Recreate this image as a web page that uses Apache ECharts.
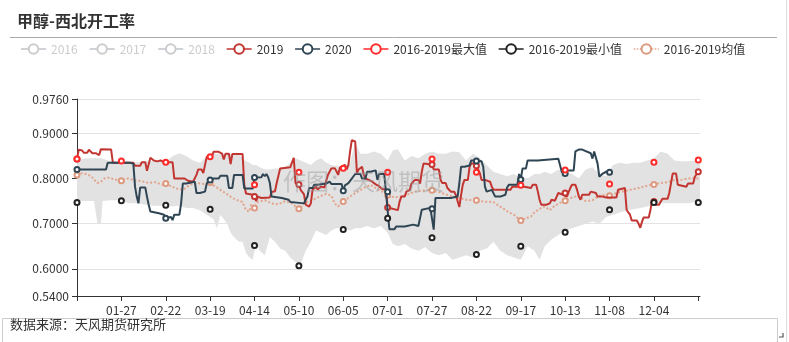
<!DOCTYPE html>
<html><head><meta charset="utf-8">
<script src="https://cdn.jsdelivr.net/npm/echarts@6/dist/echarts.min.js"></script>
<style>html,body{margin:0;padding:0;background:#fff}#c{width:789px;height:342px}</style>
</head><body><div id="c"></div>
<script>
// ---- categories (leap-year daily axis, mm-dd) ----
const monthDays = [31,29,31,30,31,30,31,31,30,31,30,31];
const categories = [];
monthDays.forEach((n, m) => { for (let d = 1; d <= n; d++) categories.push(String(m+1).padStart(2,'0') + '-' + String(d).padStart(2,'0')); });

const yTickLabels = ['0.5400','0.6000','0.7000','0.8000','0.9000','0.9760'];

// ---- series values: [dayIndex, value] ----
const s2016 = [];
const s2017 = [];
const s2018 = [];
const s2019 = [[0,0.843],[1,0.864],[3,0.862],[4,0.857],[6,0.857],[7,0.864],[8,0.862],[9,0.856],[11,0.856],[12,0.852],[13,0.852],[14,0.865],[20,0.864],[21,0.835],[33,0.835],[34,0.828],[37,0.828],[38,0.836],[40,0.836],[41,0.817],[42,0.815],[43,0.846],[45,0.84],[47,0.838],[49,0.84],[51,0.836],[56,0.836],[57,0.80],[63,0.80],[65,0.795],[66,0.797],[68,0.793],[69,0.796],[70,0.808],[71,0.82],[73,0.82],[74,0.812],[75,0.812],[76,0.848],[79,0.848],[80,0.859],[83,0.859],[84,0.855],[85,0.855],[86,0.842],[87,0.855],[89,0.855],[90,0.832],[91,0.854],[97,0.854],[98,0.786],[99,0.767],[103,0.764],[104,0.76],[105,0.75],[106,0.76],[107,0.762],[108,0.757],[113,0.758],[114,0.77],[116,0.772],[117,0.79],[118,0.79],[119,0.822],[125,0.825],[126,0.836],[127,0.846],[128,0.79],[130,0.787],[131,0.775],[133,0.765],[134,0.742],[136,0.738],[137,0.745],[138,0.775],[140,0.782],[141,0.776],[143,0.782],[145,0.78],[146,0.795],[147,0.808],[149,0.822],[151,0.823],[152,0.816],[153,0.808],[154,0.824],[157,0.83],[158,0.82],[159,0.83],[160,0.86],[161,0.885],[163,0.882],[164,0.812],[165,0.82],[167,0.826],[168,0.808],[169,0.8],[171,0.797],[173,0.793],[175,0.787],[177,0.783],[179,0.776],[181,0.776],[182,0.736],[188,0.73],[189,0.749],[190,0.76],[192,0.76],[193,0.771],[195,0.775],[196,0.789],[198,0.797],[200,0.797],[201,0.789],[202,0.815],[203,0.833],[208,0.831],[209,0.82],[212,0.82],[213,0.797],[214,0.79],[216,0.79],[217,0.779],[218,0.782],[219,0.771],[221,0.771],[222,0.763],[223,0.763],[224,0.737],[225,0.763],[226,0.786],[227,0.797],[229,0.797],[230,0.826],[231,0.833],[233,0.833],[234,0.828],[235,0.826],[236,0.812],[237,0.797],[239,0.797],[240,0.793],[242,0.793],[243,0.782],[244,0.775],[254,0.775],[255,0.782],[262,0.782],[266,0.779],[267,0.786],[269,0.786],[270,0.771],[271,0.753],[272,0.742],[275,0.742],[276,0.745],[277,0.745],[278,0.753],[280,0.751],[281,0.749],[282,0.768],[285,0.764],[286,0.768],[287,0.76],[288,0.76],[289,0.779],[290,0.786],[292,0.786],[293,0.775],[294,0.76],[295,0.753],[296,0.764],[300,0.764],[301,0.771],[302,0.768],[304,0.768],[305,0.76],[308,0.76],[309,0.764],[310,0.758],[316,0.758],[317,0.775],[318,0.779],[321,0.779],[322,0.731],[323,0.725],[324,0.72],[325,0.707],[328,0.707],[329,0.7],[330,0.691],[331,0.704],[332,0.714],[335,0.714],[336,0.731],[337,0.753],[338,0.749],[339,0.742],[341,0.742],[342,0.749],[343,0.755],[346,0.755],[347,0.768],[348,0.764],[349,0.811],[351,0.811],[352,0.786],[353,0.782],[357,0.782],[358,0.789],[361,0.789],[362,0.804],[364,0.815],[365,0.819]];
const s2020 = [[0,0.82],[17,0.82],[18,0.835],[31,0.835],[32,0.833],[33,0.833],[34,0.782],[35,0.76],[36,0.745],[37,0.78],[40,0.78],[41,0.76],[42,0.742],[43,0.727],[44,0.723],[48,0.723],[49,0.72],[51,0.72],[52,0.712],[53,0.715],[55,0.715],[56,0.708],[57,0.72],[60,0.72],[61,0.745],[62,0.789],[64,0.789],[65,0.793],[69,0.793],[70,0.768],[72,0.768],[73,0.771],[75,0.771],[76,0.789],[77,0.789],[78,0.797],[80,0.8],[83,0.8],[84,0.806],[88,0.806],[89,0.779],[91,0.779],[92,0.808],[97,0.808],[98,0.778],[103,0.778],[104,0.802],[108,0.803],[109,0.81],[110,0.805],[111,0.81],[112,0.803],[113,0.79],[114,0.76],[120,0.757],[124,0.753],[125,0.748],[133,0.745],[134,0.753],[135,0.76],[136,0.779],[138,0.779],[139,0.786],[141,0.786],[142,0.789],[146,0.789],[147,0.793],[148,0.793],[149,0.788],[155,0.788],[156,0.773],[157,0.785],[159,0.79],[161,0.8],[162,0.805],[163,0.81],[166,0.81],[167,0.8],[169,0.8],[170,0.815],[172,0.815],[173,0.818],[175,0.818],[176,0.797],[177,0.81],[180,0.81],[181,0.771],[182,0.771],[183,0.688],[186,0.688],[187,0.694],[192,0.694],[193,0.698],[197,0.698],[200,0.695],[201,0.713],[202,0.731],[203,0.735],[207,0.735],[208,0.733],[209,0.687],[210,0.757],[219,0.757],[220,0.76],[223,0.76],[224,0.789],[225,0.826],[227,0.826],[228,0.829],[230,0.829],[231,0.84],[233,0.84],[234,0.839],[237,0.838],[238,0.826],[239,0.782],[240,0.771],[241,0.775],[243,0.775],[244,0.771],[245,0.76],[248,0.76],[249,0.764],[251,0.764],[252,0.78],[253,0.786],[258,0.786],[259,0.81],[260,0.798],[261,0.822],[263,0.822],[264,0.84],[270,0.84],[271,0.844],[282,0.844],[283,0.84],[284,0.815],[286,0.811],[287,0.818],[291,0.818],[292,0.86],[294,0.864],[296,0.864],[297,0.86],[301,0.856],[302,0.844],[303,0.86],[304,0.86],[305,0.833],[306,0.804],[307,0.802],[308,0.811],[310,0.815],[312,0.814]];
const maxVals = [[0,0.843],[26,0.839],[52,0.836],[78,0.848],[104,0.786],[130,0.814],[156,0.823],[182,0.814],[208,0.843],[234,0.814],[260,0.785],[286,0.819],[312,0.788],[338,0.836],[364,0.841]];
const minVals = [[0,0.747],[26,0.751],[52,0.741],[78,0.732],[104,0.652],[130,0.607],[156,0.687],[182,0.712],[208,0.669],[234,0.632],[260,0.65],[286,0.681],[312,0.731],[338,0.747],[364,0.747]];
const meanVals = [[0,0.808],[2,0.812],[5,0.81],[8,0.806],[10,0.798],[12,0.79],[14,0.793],[16,0.8],[18,0.802],[22,0.798],[26,0.795],[30,0.8],[34,0.796],[38,0.794],[42,0.79],[46,0.792],[50,0.786],[52,0.789],[54,0.785],[58,0.778],[62,0.775],[64,0.78],[66,0.786],[70,0.79],[74,0.788],[78,0.791],[80,0.785],[84,0.775],[88,0.765],[91,0.757],[94,0.752],[97,0.748],[99,0.73],[101,0.727],[102,0.742],[104,0.735],[106,0.748],[110,0.752],[114,0.745],[118,0.743],[122,0.75],[126,0.745],[128,0.738],[130,0.733],[134,0.748],[138,0.752],[142,0.76],[146,0.766],[149,0.762],[151,0.745],[153,0.738],[156,0.749],[160,0.76],[164,0.77],[168,0.779],[172,0.786],[175,0.779],[178,0.773],[182,0.763],[186,0.758],[190,0.76],[194,0.765],[198,0.771],[202,0.773],[206,0.775],[208,0.774],[212,0.77],[216,0.765],[220,0.76],[224,0.757],[228,0.753],[234,0.752],[238,0.749],[244,0.748],[247,0.74],[250,0.733],[253,0.725],[256,0.72],[258,0.713],[260,0.707],[263,0.712],[266,0.716],[268,0.725],[271,0.733],[274,0.738],[277,0.73],[280,0.74],[283,0.746],[286,0.751],[290,0.758],[294,0.762],[298,0.75],[302,0.752],[306,0.762],[310,0.764],[312,0.762],[316,0.768],[320,0.772],[324,0.775],[328,0.778],[332,0.782],[336,0.786],[338,0.787],[342,0.79],[346,0.792],[350,0.797],[354,0.797],[358,0.8],[362,0.801],[365,0.8]];
// grey range band: [dayIndex, low, high]
const bandVals = [[0,0.75,0.84],[5,0.75,0.845],[10,0.75,0.845],[12,0.70,0.845],[14,0.70,0.845],[15,0.75,0.845],[20,0.752,0.838],[26,0.752,0.836],[30,0.745,0.836],[35,0.745,0.836],[40,0.742,0.838],[45,0.74,0.838],[52,0.74,0.836],[56,0.738,0.85],[60,0.74,0.856],[64,0.735,0.85],[68,0.735,0.84],[72,0.73,0.835],[76,0.72,0.848],[80,0.71,0.855],[82,0.69,0.855],[84,0.72,0.855],[88,0.70,0.855],[90,0.68,0.855],[92,0.67,0.855],[95,0.66,0.855],[97,0.66,0.845],[99,0.635,0.838],[101,0.625,0.835],[103,0.62,0.83],[105,0.66,0.83],[107,0.64,0.825],[110,0.63,0.82],[113,0.67,0.82],[116,0.66,0.822],[119,0.645,0.822],[122,0.64,0.826],[125,0.625,0.835],[128,0.615,0.845],[131,0.61,0.84],[134,0.64,0.835],[137,0.66,0.83],[140,0.685,0.84],[143,0.68,0.845],[146,0.675,0.835],[149,0.685,0.83],[152,0.69,0.828],[156,0.69,0.826],[160,0.685,0.835],[163,0.69,0.88],[166,0.69,0.855],[170,0.695,0.855],[174,0.69,0.86],[178,0.695,0.855],[182,0.68,0.84],[185,0.655,0.862],[188,0.65,0.865],[192,0.655,0.84],[196,0.645,0.85],[200,0.64,0.845],[204,0.648,0.855],[208,0.635,0.86],[212,0.63,0.855],[216,0.635,0.855],[220,0.62,0.86],[224,0.625,0.858],[228,0.63,0.84],[232,0.625,0.855],[236,0.64,0.845],[240,0.645,0.83],[244,0.66,0.815],[248,0.64,0.81],[252,0.63,0.805],[256,0.625,0.81],[260,0.62,0.80],[264,0.65,0.80],[268,0.64,0.81],[271,0.62,0.81],[274,0.65,0.815],[278,0.665,0.81],[282,0.675,0.82],[286,0.685,0.815],[290,0.69,0.81],[294,0.695,0.80],[298,0.70,0.82],[302,0.705,0.825],[306,0.70,0.81],[310,0.715,0.805],[314,0.72,0.83],[318,0.725,0.835],[322,0.73,0.832],[326,0.732,0.835],[330,0.735,0.835],[334,0.738,0.84],[338,0.742,0.845],[342,0.745,0.86],[346,0.745,0.855],[350,0.745,0.84],[354,0.745,0.838],[358,0.745,0.838],[362,0.748,0.84],[365,0.75,0.84]];

const legendNames = ['2016','2017','2018','2019','2020','2016-2019最大值','2016-2019最小值','2016-2019均值'];

const chart = echarts.init(document.getElementById('c'), null, {renderer:'canvas'});
const FONT = '"Noto Sans CJK SC", "Noto Sans", sans-serif';
const lineSeries = (name, data, color, extra) => Object.assign({
  name, type:'line', data, color, symbol:'emptyCircle', symbolSize:5, showAllSymbol:'auto',
  lineStyle:{width:2, color}, itemStyle:{color}, emphasis:{disabled:true}, animation:false
}, extra || {});

const option = {
  animation:false,
  textStyle:{fontFamily:FONT},
  title:{text:'甲醇-西北开工率', left:12, top:8, textStyle:{fontSize:16, fontWeight:'bold', color:'#333', fontFamily:FONT}},
  legend:{
    left:15, top:38, itemWidth:25, itemHeight:12, itemGap:11,
    itemStyle:{borderWidth:1.3}, lineStyle:{width:1.5},
    textStyle:{fontSize:12, color:'#333', fontFamily:FONT}, inactiveColor:'#ccc',
    selected:{'2016':false,'2017':false,'2018':false},
    data: legendNames.map(n => (n.indexOf('最') > 0 ? {name:n, lineStyle:{opacity:1, width:1.5}} : {name:n}))
  },
  grid:{left:77, right:89, top:99, bottom:46, containLabel:false},
  xAxis:{
    type:'category', data:categories, boundaryGap:false,
    axisLine:{lineStyle:{color:'#333'}},
    axisTick:{interval:25, lineStyle:{color:'#333'}},
    axisLabel:{interval:25, color:'#333', fontSize:12, margin:8,
      formatter:(v, i) => (i === 0 || i === 364 ? '' : v)},
    splitLine:{show:false}
  },
  yAxis:{
    type:'value', min:0.54, max:0.976,
    axisLine:{show:true, lineStyle:{color:'#333'}},
    axisTick:{show:true, lineStyle:{color:'#333'}},
    axisLabel:{color:'#333', fontSize:12, formatter:v => { const s = v.toFixed(4); return yTickLabels.indexOf(s) >= 0 ? s : ''; }},
    splitLine:{lineStyle:{color:'#e3e3e3'}}
  },
  series:[
    {name:'bandLow', type:'line', stack:'band', data:bandVals.map(r => [r[0], r[1]]), symbol:'none',
     lineStyle:{opacity:0}, silent:true, z:1},
    {name:'bandHigh', type:'line', stack:'band', data:bandVals.map(r => [r[0], +(r[2]-r[1]).toFixed(4)]), symbol:'none',
     lineStyle:{opacity:0}, areaStyle:{color:'#e2e2e2', opacity:1}, silent:true, z:1},
    lineSeries('2016', s2016, '#bbbbbb'),
    lineSeries('2017', s2017, '#bbbbbb'),
    lineSeries('2018', s2018, '#bbbbbb'),
    lineSeries('2016-2019均值', meanVals, '#dd9a80', {lineStyle:{width:2, type:'dotted', color:'#e3a48c'}, z:3}),
    lineSeries('2019', s2019, '#c23531', {z:4}),
    lineSeries('2020', s2020, '#2f4554', {z:5}),
    lineSeries('2016-2019最大值', maxVals, '#ff2a2a', {lineStyle:{opacity:0, width:2, color:'#ff2a2a'}, showAllSymbol:true, z:6}),
    lineSeries('2016-2019最小值', minVals, '#222222', {lineStyle:{opacity:0, width:2, color:'#222222'}, showAllSymbol:true, z:6})
  ],
  graphic:[
    {type:'line', shape:{x1:10, y1:37.5, x2:777, y2:37.5}, style:{stroke:'#aaaaaa', lineWidth:1}, silent:true},
    {type:'text', left:283, top:170, z:100, silent:true,
     style:{text:'作图：天风期货', fontSize:23, fill:'rgba(150,150,150,0.45)', fontFamily:FONT}},
    {type:'rect', shape:{x:2.5, y:318.5, width:775, height:24}, style:{fill:'none', stroke:'#cccccc', lineWidth:1}, silent:true},
    {type:'text', left:10, top:318, silent:true,
     style:{text:'数据来源：天风期货研究所', fontSize:13, fill:'#333', fontFamily:FONT}},
    {type:'polyline', shape:{points:[[779,337],[783,337],[783,333]]}, style:{stroke:'#555', lineWidth:1.2, fill:'none'}, silent:true},
    {type:'line', shape:{x1:786.5, y1:0, x2:786.5, y2:342}, style:{stroke:'#dddddd', lineWidth:1}, silent:true}
  ]
};
chart.setOption(option);
</script>
</body></html>
